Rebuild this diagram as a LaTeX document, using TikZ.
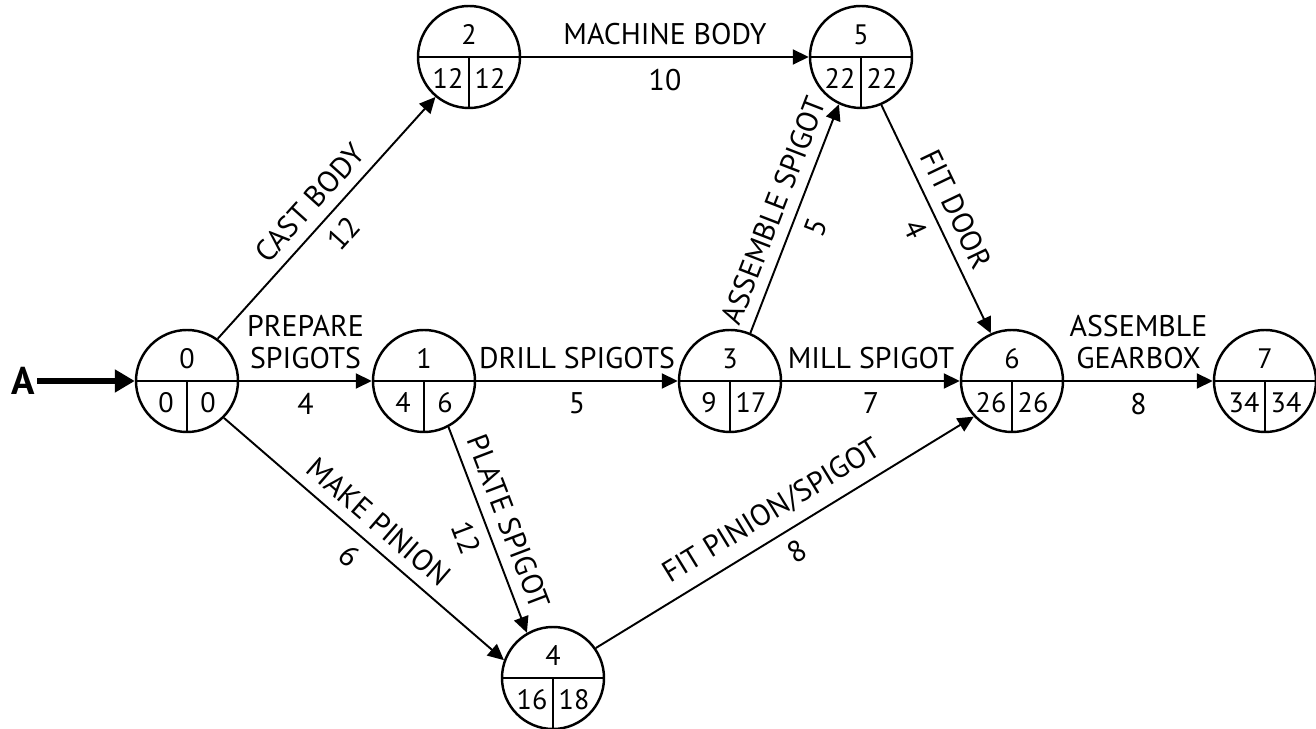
\documentclass[tikz,border=0pt]{standalone}
\usepackage{fontspec}
\setmainfont{PT Sans}
\usetikzlibrary{arrows.meta}

\tikzset{
  event/.style = {circle, draw, line width=1.4pt, minimum size=2.04cm, inner sep=0pt},
  divider/.style = {line width=1.4pt},
  evnum/.style = {font=\fontsize{16}{18}\selectfont, inner sep=0pt},
  activity/.style = {line width=1.1pt, -{Triangle[length=0.32cm, width=0.3cm]}},
  actname/.style = {font=\fontsize{17}{18.5}\selectfont, align=center, midway, sloped, above=1mm},
  actdur/.style = {font=\fontsize{17}{18.5}\selectfont, midway, sloped, below=1mm}
}

\newcommand{\eventnode}[5]{
  \node[event] (#1) at (#2) {};
  \draw[divider] (#1.west) -- (#1.east);
  \draw[divider] (#1.center) -- (#1.south);
  \node[evnum] at ([yshift=0.45cm]#1.center) {#3};
  \node[evnum] at ([xshift=-0.42cm, yshift=-0.43cm]#1.center) {#4};
  \node[evnum] at ([xshift=0.42cm, yshift=-0.43cm]#1.center) {#5};
}

\begin{document}
\begin{tikzpicture}
  \useasboundingbox (0,0) rectangle (26.32,14.58);

  \eventnode{e0}{3.74,6.96}{0}{0}{0}
  \eventnode{e1}{8.48,6.96}{1}{4}{6}
  \eventnode{e2}{9.38,13.44}{2}{12}{12}
  \eventnode{e3}{14.60,6.96}{3}{9}{17}
  \eventnode{e4}{11.06,1.02}{4}{16}{18}
  \eventnode{e5}{17.22,13.44}{5}{22}{22}
  \eventnode{e6}{20.24,6.96}{6}{26}{26}
  \eventnode{e7}{25.30,6.96}{7}{34}{34}

  \node[font=\fontsize{22}{24}\selectfont\bfseries, inner sep=1pt] (start) at (0.47,6.96) {A};
  \draw[line width=3pt, -{Triangle[length=0.4cm, width=0.44cm]}] (start) -- (e0.west);

  \draw[activity] (e0.54) -- (e2.230) node[actname] {CAST BODY} node[actdur] {12};
  \draw[activity] (e0.east) -- (e1.west) node[actname] {PREPARE\\SPIGOTS} node[actdur] {4};
  \draw[activity] (e0.-45) -- (e4.160) node[actname] {MAKE PINION} node[actdur] {6};
  \draw[activity] (e1.east) -- (e3.west) node[actname] {DRILL SPIGOTS} node[actdur] {5};
  \draw[activity] (e1.-62) -- (e4.120) node[actname] {PLATE SPIGOT} node[actdur] {12};
  \draw[activity] (e2.east) -- (e5.west) node[actname] {MACHINE BODY} node[actdur] {10};
  \draw[activity] (e3.67) -- (e5.245) node[actname] {ASSEMBLE SPIGOT} node[actdur] {5};
  \draw[activity] (e3.east) -- (e6.west) node[actname] {MILL SPIGOT} node[actdur] {7};
  \draw[activity] (e4.35) -- (e6.223) node[actname] {FIT PINION/SPIGOT} node[actdur] {8};
  \draw[activity] (e5.-67) -- (e6.114) node[actname] {FIT DOOR} node[actdur] {4};
  \draw[activity] (e6.east) -- (e7.west) node[actname] {ASSEMBLE\\GEARBOX} node[actdur] {8};

\end{tikzpicture}
\end{document}
